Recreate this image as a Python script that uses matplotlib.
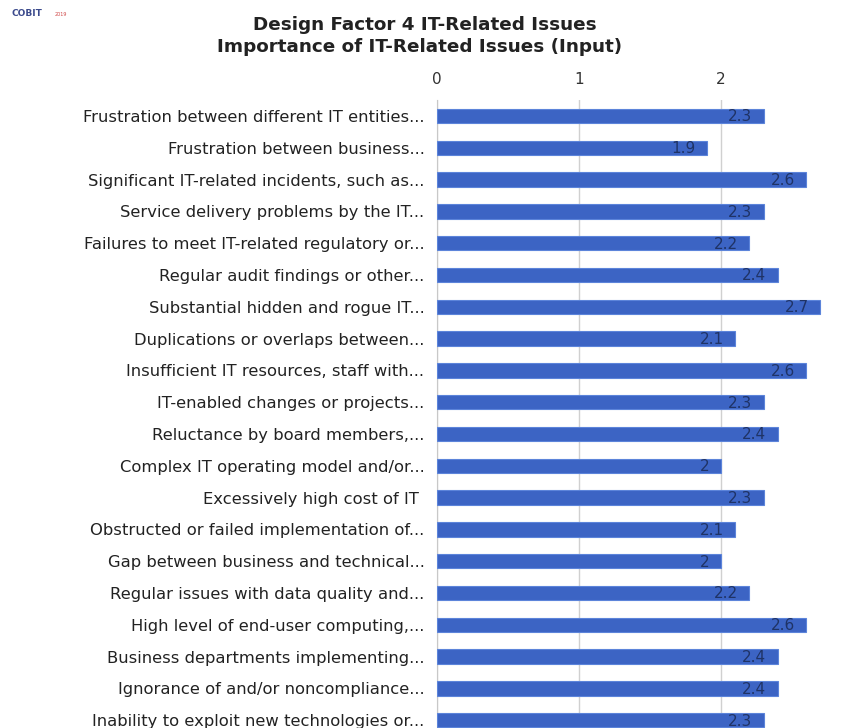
import matplotlib
matplotlib.use("Agg")
import matplotlib.pyplot as plt

categories = [
    "Frustration between different IT entities...",
    "Frustration between business...",
    "Significant IT-related incidents, such as...",
    "Service delivery problems by the IT...",
    "Failures to meet IT-related regulatory or...",
    "Regular audit findings or other...",
    "Substantial hidden and rogue IT...",
    "Duplications or overlaps between...",
    "Insufficient IT resources, staff with...",
    "IT-enabled changes or projects...",
    "Reluctance by board members,...",
    "Complex IT operating model and/or...",
    "Excessively high cost of IT ",
    "Obstructed or failed implementation of...",
    "Gap between business and technical...",
    "Regular issues with data quality and...",
    "High level of end-user computing,...",
    "Business departments implementing...",
    "Ignorance of and/or noncompliance...",
    "Inability to exploit new technologies or...",
]
values = [2.3, 1.9, 2.6, 2.3, 2.2, 2.4, 2.7, 2.1, 2.6, 2.3,
          2.4, 2, 2.3, 2.1, 2, 2.2, 2.6, 2.4, 2.4, 2.3]
xticks = [0, 1, 2]
title_lines = ["Design Factor 4 IT-Related Issues",
               "Importance of IT-Related Issues (Input)"]

W, H = 853, 728
fig = plt.figure(figsize=(W / 100, H / 100), dpi=100)
fig.patch.set_facecolor("white")
renderer = fig.canvas.get_renderer()


def fit_width(txt, target_px):
    w = txt.get_window_extent(renderer=renderer).width
    txt.set_fontsize(txt.get_fontsize() * target_px / w)


left_px, top_px = 437, 100
px_per_unit = 142
right_px = left_px + 3 * px_per_unit
ax = fig.add_axes([left_px / W, 0, (right_px - left_px) / W, (H - top_px) / H])

spacing = 31.8
first_center = 116
y_top = -(first_center - top_px) / spacing
y_bot = (H - first_center) / spacing
ypos = list(range(len(categories)))

ax.barh(ypos, values, height=0.45, color="#3C64C4", edgecolor="#5C84DA",
        linewidth=0.8, zorder=3)
for y, v in zip(ypos, values):
    ax.text(v - 0.08, y + 0.03, f"{v:g}", ha="right", va="center",
            fontsize=11, color="#1F3366", family="DejaVu Sans", zorder=4)

ax.set_xlim(0, 3)
ax.set_ylim(y_bot, y_top)
ax.set_xticks(xticks)
ax.xaxis.tick_top()
ax.tick_params(axis="x", length=0, pad=9, labelsize=11, labelcolor="#333333")
for lab in ax.get_xticklabels():
    lab.set_family("DejaVu Sans")
ax.set_yticks(ypos)
ax.set_yticklabels(categories, family="DejaVu Sans", fontsize=11.8, color="#222222")
ax.tick_params(axis="y", length=0, pad=9)
ax.grid(axis="x", color="#D0D0D0", linewidth=1, zorder=0)
for s in ["top", "right", "bottom"]:
    ax.spines[s].set_visible(False)
ax.spines["left"].set_color("#C8C8C8")

t1 = fig.text(425 / W, 1 - 25 / H, title_lines[0], ha="center", va="center",
              fontsize=12, fontweight="bold", family="DejaVu Sans", color="#222222")
t2 = fig.text(420 / W, 1 - 47 / H, title_lines[1], ha="center", va="center",
              fontsize=12, fontweight="bold", family="DejaVu Sans", color="#222222")
fit_width(t2, 405)
t1.set_fontsize(t2.get_fontsize())

fig.text(12 / W, 1 - 14 / H, "COBIT", ha="left", va="center", fontsize=6.5,
         fontweight="bold", family="DejaVu Sans", color="#3B4A8C")
fig.text(55 / W, 1 - 15 / H, "2019", ha="left", va="center", fontsize=3.5,
         family="DejaVu Sans", color="#D04A4A")

fig.savefig("out.png", dpi=100)
